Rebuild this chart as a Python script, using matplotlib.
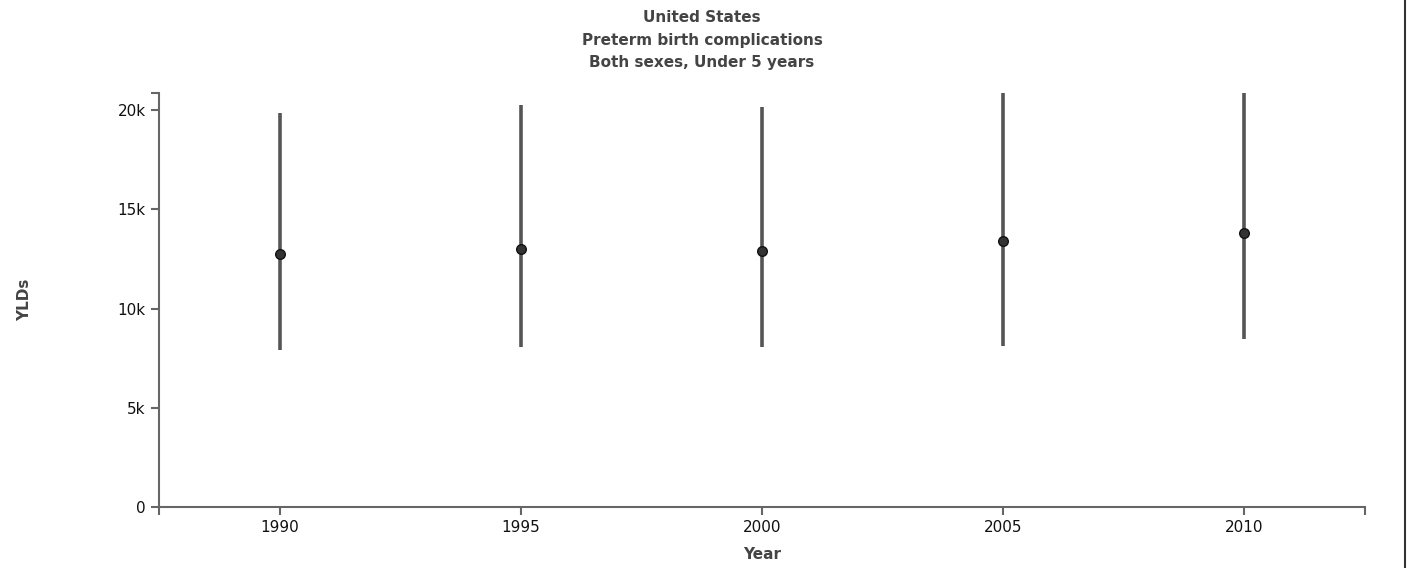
import matplotlib.pyplot as plt
from matplotlib.ticker import FuncFormatter

years = [1990, 1995, 2000, 2005, 2010]
mean_ylds = [12730, 12980, 12880, 13380, 13790]
lower_ylds = [7930, 8080, 8080, 8130, 8480]
upper_ylds = [19850, 20250, 20150, 20860, 20860]

title_lines = ["United States", "Preterm birth complications", "Both sexes, Under 5 years"]

axis_col = "#666666"
text_col = "#444444"

fig = plt.figure(figsize=(14.12, 5.68), dpi=100)
ax = fig.add_axes([159 / 1412, 61 / 568, (1365 - 159) / 1412, (507 - 93) / 568])

# uncertainty ranges and point estimates
ax.vlines(years, lower_ylds, upper_ylds, color="#555555", linewidth=2.6, zorder=2)
ax.scatter(years, mean_ylds, s=48, color="#333333", edgecolor="#111111", linewidth=1, zorder=3)

x_lo, x_hi = 1987.5, 2012.5
y_hi = max(upper_ylds)
ax.set_xlim(x_lo, x_hi)
ax.set_ylim(0, y_hi)

ax.set_xticks(years)
ax.set_yticks([0, 5000, 10000, 15000, 20000])
ax.yaxis.set_major_formatter(FuncFormatter(lambda v, p: "0" if v == 0 else "%dk" % (v / 1000)))
# end caps of the axis lines
ax.set_xticks([x_lo, x_hi], minor=True)
ax.set_yticks([y_hi], minor=True)

for s in ["top", "right"]:
    ax.spines[s].set_visible(False)
for s in ["left", "bottom"]:
    ax.spines[s].set_color(axis_col)
    ax.spines[s].set_linewidth(1.5)

ax.tick_params(which="both", length=6, width=1.5, color=axis_col, labelsize=11, labelcolor="#111111")
ax.tick_params(axis="x", pad=3)

ax.set_xlabel("Year", fontsize=11, fontweight="bold", color=text_col, labelpad=9)
fig.text(25 / 1412, 1 - 300 / 568, "YLDs", rotation=90, ha="center", va="center",
         fontsize=11, fontweight="bold", color=text_col)

for i, line in enumerate(title_lines):
    fig.text(702 / 1412, 1 - (17 + 23 * i) / 568, line, ha="center", va="center",
             fontsize=11, fontweight="bold", color=text_col)

# right-hand frame line
fig.add_artist(plt.Line2D([1405 / 1412, 1405 / 1412], [0, 1], color="#333333", linewidth=1.5))

fig.savefig("out.png", dpi=100)
